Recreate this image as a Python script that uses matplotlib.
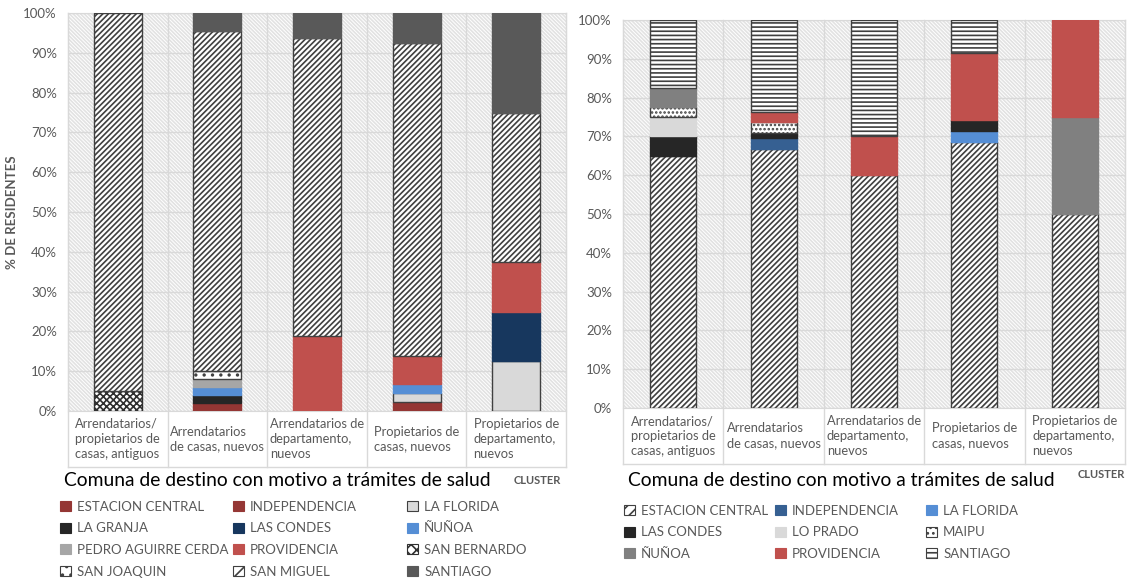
import numpy as np
import matplotlib.pyplot as plt
from matplotlib.patches import Rectangle
from matplotlib.ticker import FuncFormatter

plt.rcParams['font.family'] = ['Lato', 'DejaVu Sans']
plt.rcParams['hatch.linewidth'] = 1.2

W, H = 1130, 579

# Categorías (cluster)
categorias = ['Arrendatarios/\npropietarios de\ncasas, antiguos',
              'Arrendatarios\nde casas, nuevos',
              'Arrendatarios de\ndepartamento,\nnuevos',
              'Propietarios de\ncasas, nuevos',
              'Propietarios de\ndepartamento,\nnuevos']

# Panel izquierdo: % de residentes por comuna de destino
comunas_izq = ['ESTACION CENTRAL', 'INDEPENDENCIA', 'LA FLORIDA', 'LA GRANJA',
               'LAS CONDES', 'ÑUÑOA', 'PEDRO AGUIRRE CERDA', 'PROVIDENCIA',
               'SAN BERNARDO', 'SAN JOAQUIN', 'SAN MIGUEL', 'SANTIAGO']
valores_izq = [
    [0, 2.0, 0, 2.3, 0],         # ESTACION CENTRAL
    [0, 0, 0, 0, 0],             # INDEPENDENCIA
    [0, 0, 0, 2.3, 12.5],        # LA FLORIDA
    [0, 2.0, 0, 0, 0],           # LA GRANJA
    [0, 0, 0, 0, 12.5],          # LAS CONDES
    [0, 2.0, 0, 2.3, 0],         # ÑUÑOA
    [0, 2.0, 0, 0, 0],           # PEDRO AGUIRRE CERDA
    [0, 0, 18.75, 7.0, 12.5],    # PROVIDENCIA
    [5.0, 0, 0, 0, 0],           # SAN BERNARDO
    [0, 2.0, 0, 0, 0],           # SAN JOAQUIN
    [95.0, 85.6, 75.0, 78.6, 37.5],  # SAN MIGUEL
    [0, 4.4, 6.25, 7.5, 25.0],   # SANTIAGO
]

# Panel derecho
comunas_der = ['ESTACION CENTRAL', 'INDEPENDENCIA', 'LA FLORIDA', 'LAS CONDES',
               'LO PRADO', 'MAIPU', 'ÑUÑOA', 'PROVIDENCIA', 'SANTIAGO']
valores_der = [
    [65.0, 66.7, 60.0, 68.6, 50.0],  # ESTACION CENTRAL
    [0, 2.8, 0, 0, 0],               # INDEPENDENCIA
    [0, 0, 0, 2.9, 0],               # LA FLORIDA
    [5.0, 1.4, 0, 2.8, 0],           # LAS CONDES
    [5.0, 0, 0, 0, 0],               # LO PRADO
    [2.5, 2.8, 0, 0, 0],             # MAIPU
    [5.0, 0, 0, 0, 25.0],            # ÑUÑOA
    [0, 2.7, 10.0, 17.1, 25.0],      # PROVIDENCIA
    [17.5, 23.6, 30.0, 8.6, 0],      # SANTIAGO
]

# estilos (relleno, borde, trama)
OSC = '#404040'
estilos_izq = [('#943634', '#943634', None), ('#953735', '#953735', None),
               ('#d9d9d9', OSC, None), ('#262626', '#262626', None),
               ('#17375e', '#17375e', None), ('#558ed5', '#558ed5', None),
               ('#a6a6a6', '#a6a6a6', None), ('#c0504d', '#c0504d', None),
               ('white', '#303030', 'xxxxx'), ('white', OSC, '..'),
               ('white', OSC, '//////'), ('#595959', '#595959', None)]
estilos_der = [('white', OSC, '//////'), ('#366092', '#366092', None),
               ('#558ed5', '#558ed5', None), ('#262626', '#262626', None),
               ('#d9d9d9', '#d9d9d9', None), ('white', OSC, '....'),
               ('#808080', '#808080', None), ('#c0504d', '#c0504d', None),
               ('white', OSC, '----')]

GRIS = '#595959'
LINEA = '#d9d9d9'


def px(x, y):
    return x / W, 1 - y / H


def panel(rect, comunas, valores, estilos, ancho, ylabel=None):
    ax = fig.add_axes(rect)
    ax.add_patch(Rectangle((0, 0), 1, 1, transform=ax.transAxes, facecolor='white',
                           edgecolor='#e2e2e2', hatch='\\' * 9, lw=0, zorder=0))
    x = np.arange(len(categorias))
    base = np.zeros(len(categorias))
    for nombre, vals, (fc, ec, ht) in zip(comunas, valores, estilos):
        vals = np.array(vals, dtype=float)
        lw = [1.0 if v > 0 else 0 for v in vals]
        ax.bar(x, vals, ancho, bottom=base, facecolor=fc, edgecolor=ec, hatch=ht,
               linewidth=lw, label=nombre, zorder=3)
        base += vals
    ax.set_xlim(-0.5, len(categorias) - 0.5)
    ax.set_ylim(0, 100)
    ax.set_yticks(np.arange(0, 101, 10))
    ax.yaxis.set_major_formatter(FuncFormatter(lambda v, p: f'{v:.0f}%'))
    ax.tick_params(axis='y', length=0, pad=8, labelsize=9.5, labelcolor=GRIS)
    ax.set_xticks([])
    ax.yaxis.grid(True, color=LINEA, lw=1, zorder=1)
    for s in ax.spines.values():
        s.set_color(LINEA)
    # tabla de categorías bajo el eje
    tr = ax.get_xaxis_transform()
    prof = 56 / (rect[3] * H)
    for b in np.arange(-0.5, len(categorias), 1.0):
        ax.plot([b, b], [1, -prof], transform=tr, color=LINEA, lw=1, clip_on=False, zorder=1)
    ax.plot([-0.5, len(categorias) - 0.5], [-prof, -prof], transform=tr, color=LINEA,
            lw=1, clip_on=False)
    for i, c in enumerate(categorias):
        ax.text(i, -prof / 2, c, transform=tr, ha='center', va='center',
                multialignment='left', fontsize=9.3, color=GRIS, linespacing=1.3)
    if ylabel:
        ax.set_ylabel(ylabel, fontsize=9.5, fontweight='bold', color=GRIS, labelpad=4)
    return ax


def leyenda(comunas, estilos, xs, y0, ncol):
    for c in range(ncol):
        hs = [Rectangle((0, 0), 1, 1, facecolor=estilos[i][0],
                        edgecolor=estilos[i][1] if estilos[i][2] or estilos[i][0] == '#d9d9d9' else estilos[i][0],
                        hatch=(estilos[i][2] or '')[:3] or None, lw=0.8)
              for i in range(c, len(comunas), ncol)]
        labs = [comunas[i] for i in range(c, len(comunas), ncol)]
        fig.legend(hs, labs, loc='upper left', bbox_to_anchor=px(xs[c], y0),
                   frameon=False, fontsize=9.5, labelcolor=GRIS, handlelength=0.8,
                   handleheight=0.8, handletextpad=0.5, labelspacing=0.72,
                   borderpad=0, borderaxespad=0)


fig = plt.figure(figsize=(W / 100, H / 100), dpi=100)

r_izq = [68 / W, 1 - 411 / H, (566 - 68) / W, (411 - 13) / H]
r_der = [623 / W, 1 - 408 / H, (1125 - 623) / W, (408 - 20) / H]
panel(r_izq, comunas_izq, valores_izq, estilos_izq, 0.48, ylabel='% DE RESIDENTES')
panel(r_der, comunas_der, valores_der, estilos_der, 0.46)

fig.text(*px(64, 481), 'Comuna de destino con motivo a trámites de salud',
         fontsize=13.9, va='center', ha='left', color='black')
fig.text(*px(561, 481), 'CLUSTER', fontsize=8, fontweight='bold', va='center',
         ha='right', color=GRIS)
fig.text(*px(628, 480), 'Comuna de destino con motivo a trámites de salud',
         fontsize=13.9, va='center', ha='left', color='black')
fig.text(*px(1125, 475), 'CLUSTER', fontsize=8, fontweight='bold', va='center',
         ha='right', color=GRIS)

leyenda(comunas_izq, estilos_izq, [60, 233, 407], 501, 3)
leyenda(comunas_der, estilos_der, [624, 775, 926], 505, 3)

fig.savefig('out.png', dpi=100)
